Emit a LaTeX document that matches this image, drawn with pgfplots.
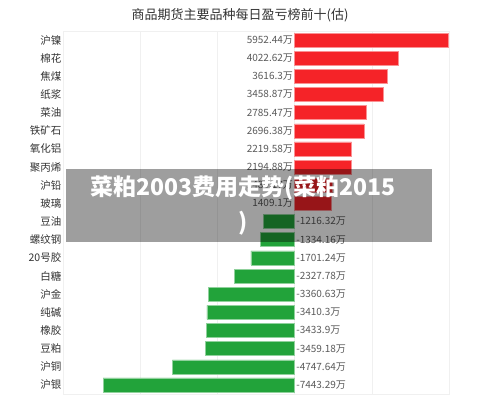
\documentclass[border=0pt]{standalone}
\usepackage{fontspec}
\setmainfont{Noto Sans CJK SC}
\usepackage{pgfplots}
\pgfplotsset{compat=1.18}
\usepackage{pgfplotstable}
\definecolor{barred}{RGB}{245,35,40}
\definecolor{bargreen}{RGB}{34,163,58}
\definecolor{txt}{RGB}{51,51,51}
\definecolor{vtxt}{RGB}{90,90,90}

\pgfplotstableread{
idx z val lab
19 0 5952.44 5952.44万
18 0 4022.62 4022.62万
17 0 3616.3 3616.3万
16 0 3458.87 3458.87万
15 0 2785.47 2785.47万
14 0 2696.38 2696.38万
13 0 2219.58 2219.58万
12 0 2194.88 2194.88万
11 0 1480.17 1480.17万
10 0 1409.1 1409.1万
}\pos

\pgfplotstableread{
idx z val lab
9 0 -1216.32 -1216.32万
8 0 -1334.16 -1334.16万
7 0 -1701.24 -1701.24万
6 0 -2327.78 -2327.78万
5 0 -3360.63 -3360.63万
4 0 -3410.3 -3410.3万
3 0 -3433.9 -3433.9万
2 0 -3459.18 -3459.18万
1 0 -4747.64 -4747.64万
0 0 -7443.29 -7443.29万
}\negt

\begin{document}
\begin{tikzpicture}[x=1pt,y=1pt]
\useasboundingbox[fill=white] (0,0) rectangle (500,413);
\node[font=\fontsize{13}{16}\selectfont, text=txt] at (240,398) {商品期货主要品种每日盈亏榜前十(估)};
\begin{axis}[
  at={(63pt,19pt)}, anchor=south west,
  scale only axis, width=386pt, height=363pt,
  xmin=-9000, xmax=6000, ymin=-0.5, ymax=19.5,
  xtick={-9000,-6000,-3000,0,3000,6000}, xticklabel=\empty,
  xmajorgrids, grid style={gray!12},
  ytick={0,...,19},
  yticklabels={沪银,沪铜,豆粕,橡胶,纯碱,沪金,白糖,20号胶,螺纹钢,豆油,玻璃,沪铅,聚丙烯,氧化铝,铁矿石,菜油,纸浆,焦煤,棉花,沪镍},
  major tick length=0pt,
  axis line style={gray!12},
  yticklabel style={font=\fontsize{10.5}{12}\selectfont, text=txt, inner sep=1.5pt},
  clip=false,
]
\addplot[xbar, bar width=0.77, bar shift=0pt, fill=barred, draw=barred!50!white, line width=0.5pt] table[x=val,y=idx]{\pos};
\addplot[xbar, bar width=0.77, bar shift=0pt, fill=bargreen, draw=bargreen!50!white, line width=0.5pt] table[x=val,y=idx]{\negt};
\addplot[draw=none, mark=none, nodes near coords, point meta=explicit symbolic,
  nodes near coords align={anchor=east},
  every node near coord/.append style={font=\fontsize{10}{12}\selectfont, text=vtxt, inner sep=1.5pt, anchor=east}]
  table[x=z, y=idx, meta=lab]{\pos};
\addplot[draw=none, mark=none, nodes near coords, point meta=explicit symbolic,
  nodes near coords align={anchor=west},
  every node near coord/.append style={font=\fontsize{10}{12}\selectfont, text=vtxt, inner sep=1.5pt, anchor=west}]
  table[x=z, y=idx, meta=lab]{\negt};
\end{axis}
\fill[black, opacity=0.38] (66,171) rectangle (432,244);
\node[text=white, font=\fontsize{23}{35}\selectfont\bfseries, align=center] at (243,207.5) {菜粕2003费用走势(菜粕2015\\)};
\end{tikzpicture}
\end{document}
